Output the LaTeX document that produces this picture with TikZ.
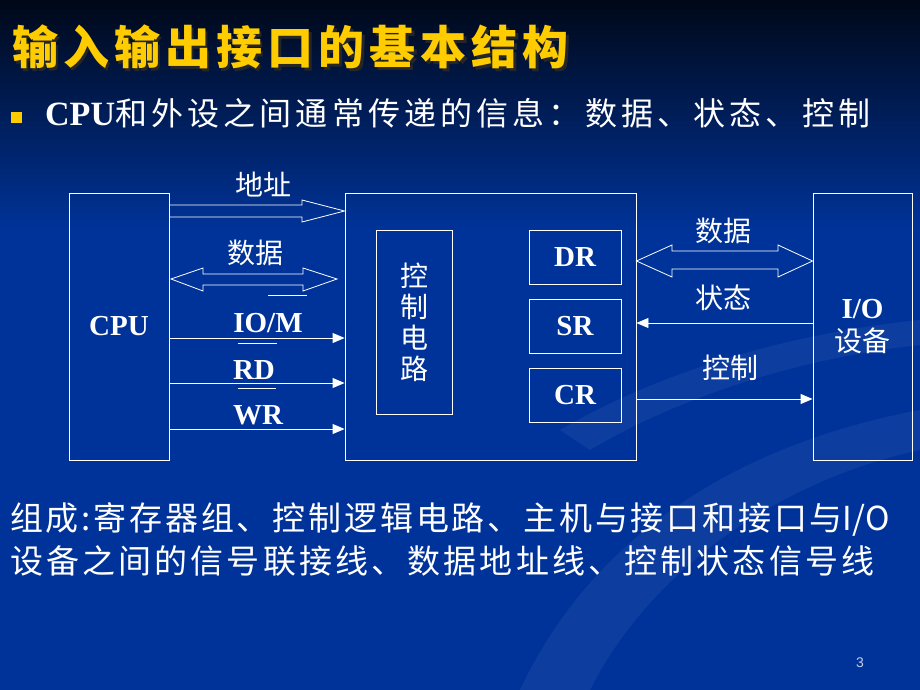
\documentclass[tikz,border=0pt]{standalone}
\usepackage{fontspec}
\setmainfont{Liberation Serif}
\setsansfont{Liberation Sans}
\newfontfamily\cjk{Noto Sans CJK SC}
\newfontfamily\cjkwide[LetterSpace=13]{Noto Sans CJK SC}
\newfontfamily\cjktitle[LetterSpace=11]{Noto Sans CJK SC}
\usetikzlibrary{arrows.meta}

\definecolor{slideblue}{HTML}{003399}
\definecolor{slidetop}{HTML}{000818}
\definecolor{titleyellow}{HTML}{FFCC00}

\begin{document}
\begin{tikzpicture}[x=1pt, y=-1pt,
  box/.style = {draw=white, line width=0.9pt, inner sep=0pt},
  sig/.style = {draw=white, line width=0.9pt, -{Triangle[length=12pt,width=10pt]}},
  bus/.style = {draw=white, line width=0.8pt, line join=miter},
  bar/.style = {draw=white, line width=0.9pt},
  lbl/.style = {text=white, inner sep=0pt, font=\cjk\fontsize{28}{31}\selectfont},
  tag/.style = {text=white, inner sep=0pt, font=\bfseries\fontsize{29}{33}\selectfont}]
% background
\fill[top color=slidetop, bottom color=slideblue] (0,0) rectangle (920,230);
\fill[slideblue] (0,229) rectangle (920,690);
\fill[white, opacity=0.05] (520,690) .. controls (600,520) and (760,440) .. (920,410) -- (920,450) .. controls (780,480) and (650,570) .. (590,690) -- cycle;
\fill[white, opacity=0.05] (560,430) .. controls (680,360) and (820,330) .. (920,320) -- (920,345) .. controls (820,355) and (690,390) .. (590,450) -- cycle;
\useasboundingbox (0,0) rectangle (920,690);

% heading
\node[anchor=west, inner sep=0pt, text=black!85, font=\cjktitle\bfseries\fontsize{46}{50}\selectfont] (ttlshadow) at (14.5,49.5) {输入输出接口的基本结构};
\node[anchor=west, inner sep=0pt, text=titleyellow, font=\cjktitle\bfseries\fontsize{46}{50}\selectfont] (ttl) at (12,47) {输入输出接口的基本结构};
\node[fill=titleyellow, minimum size=11pt, inner sep=0pt] (dot) at (16.5,118) {};
\node[anchor=west, text=white, inner sep=0pt] (info) at (45,113)
  {\fontsize{34}{36}\selectfont\bfseries CPU\cjkwide\mdseries\fontsize{32}{36}\selectfont 和外设之间通常传递的信息：数据、状态、控制};

% boxes
\node[box, minimum width=100pt, minimum height=267pt] (cpu) at (119,326.5) {};
\node[tag] at (cpu) {CPU};
\node[box, minimum width=291pt, minimum height=267pt] (port) at (490.5,326.5) {};
\node[box, minimum width=76pt, minimum height=184pt, lbl, align=center] (ctrl) at (414,322) {控\\制\\电\\路};
\node[box, minimum width=92pt, minimum height=54pt, tag] (dr) at (575,257) {DR};
\node[box, minimum width=92pt, minimum height=54pt, tag] (sr) at (575,326) {SR};
\node[box, minimum width=92pt, minimum height=54pt, tag] (cr) at (575,395) {CR};
\node[box, minimum width=99pt, minimum height=267pt, text=white, align=center,
  font=\fontsize{28}{33}\selectfont] (dev) at (862.5,326.5)
  {\bfseries\fontsize{29}{33}\selectfont I/O\\\cjk\mdseries 设备};

% CPU side
\draw[bus] (cpu.east |- 0,205) -- (302,205) -- (302,200) -- (port.west |- 0,211)
  -- (302,222) -- (302,217) -- (cpu.east |- 0,217);
\node[lbl] (addr) at (263,185) {地址};
\draw[bus] (171,279) -- (203,268) -- (203,274) -- (303,274) -- (303,268) -- (337,279)
  -- (303,291) -- (303,285) -- (203,285) -- (203,291) -- cycle;
\node[lbl] (data) at (255,253) {数据};
\draw[sig] (cpu.east |- 0,338) -- (port.west |- 0,338);
\draw[sig] (cpu.east |- 0,383) -- (port.west |- 0,383);
\draw[sig] (cpu.east |- 0,429) -- (port.west |- 0,429);
\node[tag] (iom) at (268,323) {IO/M};
\node[tag] (rd) at (254,370) {RD};
\node[tag] (wr) at (258,415) {WR};
\draw[bar] ([xshift=35pt,yshift=18pt]iom.north west) -- ([xshift=4pt,yshift=18pt]iom.north east);
\draw[bar] ([xshift=5pt,yshift=17pt]rd.north west) -- ([xshift=2pt,yshift=17pt]rd.north east);
\draw[bar] ([xshift=5pt,yshift=17pt]wr.north west) -- ([xshift=-7pt,yshift=17pt]wr.north east);

% device side
\draw[bus] (port.east |- 0,261) -- (672,245) -- (672,251) -- (778,251) -- (778,245) -- (dev.west |- 0,261)
  -- (778,277) -- (778,269) -- (672,269) -- (672,277) -- cycle;
\node[lbl] (data2) at (723,231) {数据};
\draw[sig] (dev.west |- 0,323) -- (port.east |- 0,323);
\node[lbl] (stat) at (723,298) {状态};
\draw[sig] (port.east |- 0,399) -- (dev.west |- 0,399);
\node[lbl] (cmd) at (730,368) {控制};

% summary
\node[anchor=west, text=white, inner sep=0pt, font=\cjk\fontsize{33}{36}\selectfont] (sum1) at (10,519)
  {\addfontfeature{LetterSpace=8.5}组成:寄存器组、控制逻辑电路、主机与接口和接口与{\addfontfeature{LetterSpace=0}I/O}};
\node[anchor=west, text=white, inner sep=0pt, font=\cjk\fontsize{33}{36}\selectfont] (sum2) at (10,561)
  {\addfontfeature{LetterSpace=9.5}设备之间的信号联接线、数据地址线、控制状态信号线};
\node[text=white!75!slideblue, font=\sffamily\fontsize{14}{16}\selectfont] (pg) at (860,663) {3};
\end{tikzpicture}
\end{document}
